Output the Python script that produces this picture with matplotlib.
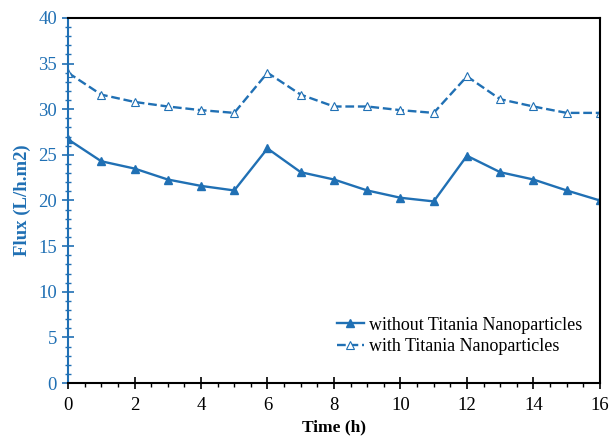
import numpy as np
import matplotlib.pyplot as plt
from matplotlib.ticker import MultipleLocator

plt.rcParams['font.family'] = ['Liberation Serif', 'DejaVu Serif']

time_h = list(range(17))
flux_without = [26.7, 24.3, 23.5, 22.3, 21.6, 21.1, 25.7, 23.1, 22.3, 21.1, 20.3, 19.9,
                24.9, 23.1, 22.3, 21.1, 20.0]
flux_with = [34.0, 31.6, 30.8, 30.3, 29.9, 29.6, 34.0, 31.6, 30.3, 30.3, 29.9, 29.6,
             33.6, 31.1, 30.3, 29.6, 29.6]

blue = '#2070b4'

fig = plt.figure(figsize=(6.1, 4.45), dpi=100)
ax = fig.add_axes([0.1115, 0.1393, 0.872, 0.8203])

ax.plot(time_h, flux_without, '-', color=blue, lw=1.7, marker='^', ms=5.5,
        label='without Titania Nanoparticles')
ax.plot(time_h, flux_with, '--', color=blue, lw=1.7, marker='^', ms=5.5,
        markerfacecolor='white', markeredgewidth=0.8,
        label='with Titania Nanoparticles')

ax.set_xlim(0, 16)
ax.set_ylim(0, 40)
ax.xaxis.set_major_locator(MultipleLocator(2))
ax.xaxis.set_minor_locator(MultipleLocator(0.5))
ax.yaxis.set_major_locator(MultipleLocator(5))
ax.yaxis.set_minor_locator(MultipleLocator(1))

ax.tick_params(axis='x', which='major', direction='inout', length=8, width=1.2,
               labelsize=13.5, pad=6, colors='black')
ax.tick_params(axis='x', which='minor', direction='out', length=3, width=1)
ax.tick_params(axis='y', which='major', direction='inout', length=8, width=1.2,
               labelsize=13.5, colors=blue, pad=4)
ax.tick_params(axis='y', which='minor', direction='inout', length=4, width=1,
               colors=blue)

for s in ['top', 'right', 'bottom']:
    ax.spines[s].set_color('black')
    ax.spines[s].set_linewidth(1.5)
ax.spines['left'].set_color(blue)
ax.spines['left'].set_linewidth(1.5)

ax.set_xlabel('Time (h)', fontsize=12.5, fontweight='bold', labelpad=4)
ax.set_ylabel('Flux (L/h.m2)', fontsize=13.5, fontweight='bold', color=blue, labelpad=5)

ax.legend(loc='center left', bbox_to_anchor=(0.505, 0.129), frameon=False,
          borderpad=0, borderaxespad=0,
          fontsize=13, handlelength=1.5, handletextpad=0.3, labelspacing=0.25)

fig.savefig('out.png', dpi=100)
